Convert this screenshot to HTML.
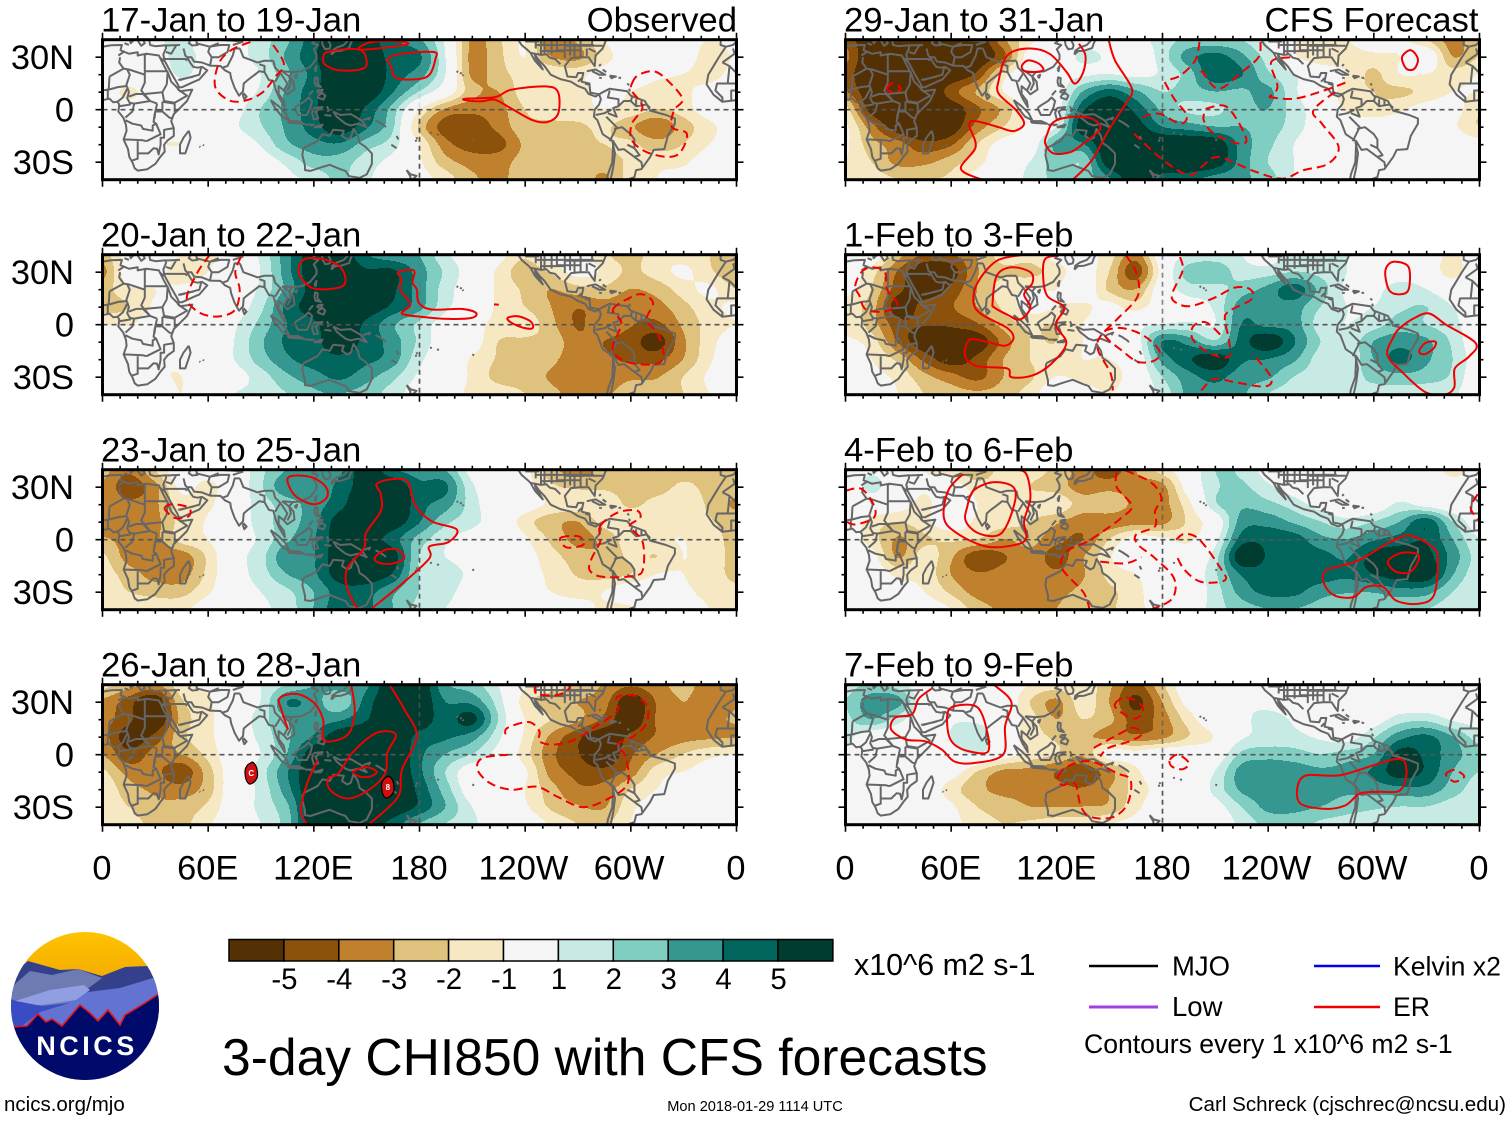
<!DOCTYPE html>
<html lang="en">
<head>
<meta charset="utf-8">
<title>3-day CHI850 with CFS forecasts</title>
<style>
html,body{margin:0;padding:0;background:#fff}
svg{display:block}
text{font-family:"Liberation Sans",Arial,sans-serif;fill:#000}
</style>
</head>
<body>
<svg id="chart" xmlns="http://www.w3.org/2000/svg" width="1510" height="1121" viewBox="0 0 1510 1121">
  <rect width="1510" height="1121" fill="#fff"/>
  <g id="panels"></g>

  <g id="colorbar"></g>
  <text x="854" y="975" font-size="30.4">x10^6 m2 s-1</text>

  <text x="222" y="1075" font-size="51.6">3-day CHI850 with CFS forecasts</text>

  <g>
    <line x1="1089" y1="966" x2="1158" y2="966" stroke="#000" stroke-width="2.5"/>
    <text x="1172" y="975.5" font-size="27.5">MJO</text>
    <line x1="1314" y1="966" x2="1380" y2="966" stroke="#0000ee" stroke-width="2.5"/>
    <text x="1393" y="975.5" font-size="26.6">Kelvin x2</text>
    <line x1="1089" y1="1007" x2="1158" y2="1007" stroke="#a040e0" stroke-width="3"/>
    <text x="1172" y="1016" font-size="27.5">Low</text>
    <line x1="1314" y1="1007" x2="1380" y2="1007" stroke="#f00000" stroke-width="2.5"/>
    <text x="1393" y="1016" font-size="26.6">ER</text>
    <text x="1084" y="1053" font-size="26.6">Contours every 1 x10^6 m2 s-1</text>
  </g>

  <g>
    <defs>
      <clipPath id="logoClip"><circle cx="85" cy="1006" r="74"/></clipPath>
      <linearGradient id="sunGrad" x1="0" y1="0" x2="0" y2="1"><stop offset="0" stop-color="#ffc400"/><stop offset="1" stop-color="#f2a600"/></linearGradient>
    </defs>
    <g clip-path="url(#logoClip)">
      <rect x="10" y="930" width="150" height="60" fill="url(#sunGrad)"/>
      <path fill="#34408c" d="M8 978L28 961L60 970L78 969L102 976L125 967L148 966L162 985V1082H8Z"/>
      <path fill="#6d7bb2" d="M8 990L30 971L52 975L78 969L102 978L86 990L90 1000L40 1012L8 1005Z"/>
      <path fill="#6373d2" d="M88 992L120 988L156 977L164 992V1020L100 1032L60 1032L8 1034V1018L60 1006Z"/>
      <path fill="#919ee2" d="M15 1001L50 990L84 985L90 990L76 1000L42 1005L22 1005Z"/>
      <path fill="#3a4cc4" d="M8 998L16 1001L42 1006L70 1003L40 1012L22 1026L8 1030Z"/>
      <path fill="#000a6b" stroke="#e8141c" stroke-width="1.6" d="M10 1027L27 1026L38 1014L46 1022L52 1019L62 1026L80 1005L90 1013L98 1021L108 1010L120 1025L125 1015L145 1003L160 993V1084H10Z"/>
    </g>
    <text x="87" y="1055" font-size="27" font-weight="700" text-anchor="middle" letter-spacing="3.5" style="fill:#fff">NCICS</text>
  </g>

  <text x="4" y="1111" font-size="20.5">ncics.org/mjo</text>
  <text x="755" y="1111" font-size="14.6" text-anchor="middle">Mon 2018-01-29 1114 UTC</text>
  <text x="1506" y="1111" font-size="20.6" text-anchor="end">Carl Schreck (cjschrec@ncsu.edu)</text>
</svg>

<script>
/* ---------- axes and categories ---------- */
const panelTitles = ["17-Jan to 19-Jan","20-Jan to 22-Jan","23-Jan to 25-Jan","26-Jan to 28-Jan","29-Jan to 31-Jan","1-Feb to 3-Feb","4-Feb to 6-Feb","7-Feb to 9-Feb"];
const xTickLons = [0,60,120,180,240,300,360];
const xTickLabels = ["0","60E","120E","180","120W","60W","0"];
const yTickLats = [30,0,-30];
const yTickLabels = ["30N","0","30S"];
const gridLons = [0,15,30,45,60,75,90,105,120,135,150,165,180,195,210,225,240,255,270,285,300,315,330,345,360];
const gridLats = [40,30,20,10,0,-10,-20,-30,-40];
const levels = [-5,-4,-3,-2,-1,1,2,3,4,5];
const colorbarLabels = ["-5","-4","-3","-2","-1","1","2","3","4","5"];
const binColors = ["#543005","#8c510a","#bf812d","#dfc27d","#f6e8c3","#f5f5f5","#c7eae5","#80cdc1","#35978f","#01665e","#003c30"];

/* ---------- velocity potential anomaly fields (rows: gridLats, columns: gridLons) ---------- */
const field1 = [
[.3,0,.8,1.2,.3,.5,1.5,2.8,4.6,5.8,5.6,4.2,3.2,.8,-3.2,-2.2,-1,-4,-2.8,-1,0,0,-.3,-1,-.5],
[0,0,.3,1.5,.5,.6,1.5,3.2,4.8,6.2,6,4.6,4.2,1,-3.3,-2.3,-1,-3,-3.3,-1.5,-.3,0,0,-1.7,-.8],
[0,0,0,1.2,.3,.3,1,2.8,4.4,6.3,6.3,4.6,3.5,1,-3.2,-2.4,-1.5,-1.2,-1.3,-.5,-.5,-.8,-1,-1.5,-.5],
[-.3,-1.2,-.3,.2,0,.2,1.2,3.2,4.6,6.3,6,4.1,2,0,-2.6,-3,-1.5,-1.5,-1.3,-.8,-1,-1.3,-1.2,-.5,0],
[0,-.5,0,0,0,.5,2,3.3,4.7,6.2,4.8,2.6,-.8,-3.1,-3.7,-3.4,-2,-1.6,-1.3,-1,-1.3,-2,-1.5,-.3,0],
[0,0,0,0,0,.8,1.9,3.2,4.5,5.8,4.2,2.2,-2.2,-4.5,-4.6,-3.7,-2.3,-2.2,-2.2,-1.8,-2.8,-3.8,-2.5,-1.3,-.3],
[0,0,-.8,-1,0,.2,1.1,2.8,3.6,3.9,2.5,1.5,-1,-3.6,-4.5,-4.4,-2.8,-2.2,-2.2,-2,-1.8,-2.6,-2,-1,-.3],
[0,0,0,0,0,0,.3,1.3,2.5,2.5,1.5,.6,-.8,-2.6,-3.4,-3.4,-2.6,-2.2,-2.2,-2.5,-1.8,-1.3,-1.2,-.3,0],
[0,0,0,0,0,0,0,.7,1.3,2.2,1.2,.3,-.5,-1.5,-2.8,-3.2,-2.5,-2.2,-2.2,-3.2,-1.5,-1,-.6,0,0]];
const field2 = [
[-2.5,-.5,0,-1,-1.2,-.5,1.2,3.6,5.8,5.8,4.1,3.3,3,1.2,.3,-.5,-1.8,-.3,-.3,-1.8,-2.4,-1.5,-1.5,-2,-3],
[-3.4,-.3,-.3,-1.8,-1,-.2,1,3.6,5.8,6.2,5.2,5.2,3.5,1.8,.3,-1.2,-2.6,-1.8,-.5,-1.2,-2.2,-1.5,-.8,-1.8,-3],
[-2.5,-1.2,-1,-.7,-.2,.2,1.2,3.3,5.6,6.3,6,5.2,3.5,1.5,.2,-1.2,-2.2,-3,-2.4,-2.2,-3,-2.6,-1.5,-.8,-2],
[-2.5,-2,-.8,-.2,0,.3,1.7,4.3,5.6,6.3,5.8,4.8,3.4,1.3,.1,-1.2,-2,-3,-3.9,-3.4,-3.8,-3.4,-2.3,-1.3,-.8],
[-1,-1.1,-.3,0,0,.8,2.3,4,4.8,5.7,4.8,3.2,1.8,.3,-.5,-1.3,-1.3,-2.7,-4.1,-3.3,-3.9,-4.2,-2.8,-1.6,-1],
[0,-.3,-.5,0,0,1,2.8,4.2,4.7,5.6,4.7,3.5,1.8,.2,-.3,-2,-2.2,-2.4,-3.7,-4,-4.5,-5.5,-3.2,-1.4,-.3],
[0,0,-.8,-.7,0,1,2.5,3.8,4.5,4.8,4.3,3.5,1.3,0,-1.1,-2.1,-2.3,-2.8,-3.5,-3.8,-4.2,-4.3,-3,-1.2,0],
[0,0,-.7,-1,0,.5,1.5,2.8,3.6,4.2,3.4,2.3,.8,0,-1.2,-2.3,-2.5,-3.1,-3.4,-3.6,-3.2,-3.1,-2,-.8,0],
[0,0,0,-1,.3,1,1.3,2,2.8,3,2.5,1.5,.3,-.5,-1.2,-1.5,-2,-2.8,-3.2,-3.2,-2.5,-2.5,-2,-1,-.8]];
const field3 = [
[-2.6,-3.8,-2,0,-.3,0,1.7,3,3.5,3.8,5.8,4.1,3.5,3,.5,0,-.7,-2.6,-3.6,-2.6,-2.5,-2.5,-2.5,-2.4,-2.2],
[-3.1,-4.6,-3.3,-.7,-1.3,0,1.8,3.8,3.3,4.3,5.7,6,4.3,4.2,1.2,0,-.5,-1.8,-2.2,-2.2,-2.4,-2.5,-1.8,-2.3,-2.4],
[-3.1,-3.8,-3.2,-1.4,-1.2,0,1.5,2.5,3.5,4.6,6.3,6.3,4.4,3.5,1.5,0,-.3,-1.2,-1.3,-1.2,-2.2,-1.6,-1.3,-2.2,-3.2],
[-3.3,-3.4,-3.3,-1.6,-.9,0,1.5,2.5,3.6,5.6,6.1,5.8,4.1,2.3,1.3,.3,-1.5,-2.6,-3,-1.6,-1.2,-1.3,-1.3,-1.9,-2.4],
[-2.9,-3.3,-3.3,-1.6,-1,.3,1.2,2.8,3.9,5.6,5.6,4.5,2.6,1.2,.5,.3,-.8,-2.2,-3.3,-2.7,-1.4,-1.2,-1,-1.6,-2.3],
[-1.8,-3.4,-3.6,-3.6,-1.8,.4,1.6,3.8,3.9,5.8,6.2,5.6,2,1,.3,0,-.5,-1.6,-2.5,-2.8,-1.8,-2,-1,-1.6,-2.2],
[-1.5,-2.5,-3.4,-3.5,-1.7,.3,1.5,3,3.8,5.6,5.9,4.9,2,1.8,.6,0,-.6,-1.2,-2.1,-2.4,-2,-1,-1,-1.6,-2.2],
[-1.2,-2,-2.4,-2.4,-1.2,.2,1,1.8,3,4.5,4.4,3.2,2,1.5,.2,0,-.6,-1,-1.4,-1,0,0,-.7,-1.4,-1.8],
[-1,-1,-1.3,-1.3,-.3,0,.7,1.5,3,4.7,4.3,3,1.7,1,0,0,0,-.3,-.5,-1.2,-1.2,0,-.2,-1,-1.5]];
const field4 = [
[-1.6,-2.5,-3.2,-1.3,-.7,.5,1,2,3,3.5,3.8,6,6,3.2,2.5,1,-.8,-1.5,-2.2,-3.1,-3.8,-3.3,-2.7,-3.4,-3.1],
[-3.2,-4.5,-6,-2.2,-1.3,.5,1,4,3.5,2.3,4.4,6.2,6,4,3.7,1.5,-1.5,-2.6,-3,-3.6,-5.8,-3.9,-3,-3.6,-3.1],
[-3.6,-4.7,-6.2,-2.7,-1.3,0,1.5,3,3.5,3.8,4.9,6.3,5.8,4.5,5.4,2,-1,-2,-2.8,-4.2,-5.8,-3.9,-3.2,-3.2,-2.9],
[-3.5,-5.6,-4.7,-2.3,-1.3,0,1.3,2.8,4.1,5.8,6,6.2,4.7,4.2,3.5,1.3,-1.2,-3.2,-4.7,-5.8,-4.8,-3.9,-3.4,-3.2,-3.1],
[-3,-4.7,-3.6,-3,-1.7,0,1,3,5.8,6.2,6.3,6.3,4.3,3,2,.5,-1.5,-3.7,-4.9,-6,-4.2,-3,-2,-1.3,-1],
[-1.8,-3.4,-3.7,-4.7,-2.5,0,1.5,3.9,6,6.3,6.4,6.3,4.3,2,.2,0,-.8,-3.4,-4.3,-4.7,-3.6,-1.5,-1,-.6,-.7],
[-1.2,-2.6,-3.2,-3.6,-2.5,0,1.3,3.6,6.1,6.4,6.4,6.3,4.7,2.5,.2,0,-1,-2.6,-3.8,-3.6,-2,-1,-.5,-.5,-.5],
[-1.2,-2,-2.7,-2.6,-1.8,0,1.3,2.8,6,6.4,6.4,6,4.8,3,1,0,-.8,-2.2,-2.9,-3.1,-1.3,-.5,-.3,-.2,-.2],
[-1,-1.5,-2.3,-2.3,-1.2,0,1,2.5,6,6.2,5.8,4.6,3,2,1.3,0,0,-1.2,-2,-2.2,-1,-.3,0,0,0]];
const field5 = [
[-4.2,-6.3,-6.5,-6.5,-6.3,-6,-3.2,-1.3,-.3,.5,.5,.5,1.5,2.2,2.2,2,.8,-1,-1,-1,0,-.6,-2,-3.4,-2.3],
[-3.7,-6.3,-6.5,-6.5,-6.5,-6,-4.2,-.3,.1,1.2,.8,0,1.5,3.5,4.4,3.3,1.5,-.8,-1.7,-1.5,-1.3,-1,.2,-3,-2],
[-4.4,-6.3,-6.5,-6.5,-6,-4.8,-1.5,0,.5,.8,1,.6,1.2,2.5,4.8,4.1,2.2,1,0,-1,-2.2,-1,-1,-1.5,-1],
[-3.9,-6,-6.5,-6.5,-4.5,-2.9,-1,0,.2,3,4.4,3.2,2,2.5,3,2.8,3.3,1.2,0,-1.5,-2,-2.2,-1.7,-1,-1],
[-1.6,-5.6,-6.2,-6.5,-5.8,-4.2,-2.7,-.3,.5,4.7,6,4.7,2.8,1.8,1.8,2.5,3,1.5,.3,-1.2,-1.7,-1.2,-.5,-.5,-1.8],
[-.8,-3.6,-5.8,-6.4,-5.8,-3.6,-2,-.5,1,5.8,6.4,5.6,4,3.5,3,3,2.6,1.5,.3,0,-.2,-.2,-.4,-.8,-2],
[-.8,-2.6,-3.6,-4.7,-4.2,-2,-.5,0,3.3,3.9,6.3,6.5,6.2,6.2,5.9,3.6,2.3,1,0,0,0,0,.8,0,-.5],
[-1,-2,-3.3,-3.3,-2.5,-1.4,0,1,2.5,2.2,5.8,6.5,6.2,6.4,5.8,3.6,2,1,0,0,0,0,0,0,0],
[-1,-1.5,-2,-2,-1.8,-.5,.2,1.3,2.3,2.5,3.9,5.8,4.6,4.3,3.6,3.2,2.5,1,0,0,0,0,0,0,0]];
const field6 = [
[.5,0,-2.5,-4.1,-4.1,-3,-1.5,-1.5,-.5,-.5,-1.5,-3.5,0,1,1.3,1,.3,1.8,1.7,1,.3,0,-.2,-1.2,0],
[0,-1.5,-4.1,-6,-5.6,-3.1,-2.2,-2.3,-1.5,-.4,-2,-4.6,-.5,2.5,2.8,1.5,1.5,2,1.7,1,0,.2,0,-1.5,.3],
[-.5,-2,-4.6,-5.8,-4.7,-3,-1.5,-1,-1,0,-2.2,-3,0,1.5,1.6,2.5,3.3,4.6,2.6,.8,.6,1.5,1,0,.3],
[-1.5,-2.5,-5.6,-4.6,-4.1,-3,-1.8,-.5,-1,-1.2,-.6,-1.5,0,.5,1.2,3.5,3.6,3.5,2,1,1,1.8,2,1,.3],
[-1.2,-2.5,-4.6,-4.9,-4.8,-4.1,-2.6,-1.8,-2,-1,-.4,.6,1,1.2,1,4,3.7,3.5,1.5,1,1.5,2.5,2,1.3,.2],
[-.8,-1.5,-4.1,-5.8,-6,-5.8,-3.6,-2,-2,-1,-.6,.3,4,3.6,2.2,4.4,5.8,4.1,2,1.2,3,3.6,3.2,1.8,0],
[0,-1,-2.3,-4.3,-5.6,-4.7,-3,-2,-1.5,-1,-1,0,3.3,4.8,5.8,4.2,4,3.2,1.5,1.2,3,4.3,3.2,2,.3],
[0,-.6,-1.3,-2.7,-3.6,-4.3,-3,-2.2,-1,-1.3,-1.5,-.2,2,3.6,4.3,3.5,3.2,2,1.5,1.5,2.3,2.7,2.5,1.8,0],
[0,0,-1,-2,-2.5,-2.8,-2.5,-1.5,0,-.3,-1,0,1.3,3.3,3.7,3.2,2,1.5,1.3,2,1.6,1.5,1.3,1.2,0]];
const field7 = [
[0,.8,.2,-1,-1.5,-3,-1.5,-1.5,-2.3,-3.4,-4.6,-3,-1.5,0,2,1.8,.5,0,0,.5,.8,.5,0,-1.5,-.5],
[0,1.3,0,-.8,-.4,-1.5,-1.4,-2,-2.5,-3.5,-3.4,-3.4,-3.3,-.3,1.8,2.2,1.2,.4,0,0,.2,0,0,-.3,0],
[0,.2,-.3,-1.3,0,-1,-1.3,-1.5,-1.2,-2.5,-2.2,-3.3,-3.4,-1.3,1.8,2.8,2.3,1.5,.5,0,0,1.2,.5,0,0],
[-.2,-1.3,-2,-1.3,-.2,-1.2,-1.5,-2,-2.8,-3.6,-3.6,-3.4,-3.3,-1.8,0,3.4,3.6,2.8,2,1.3,2,3,4.6,2,.3],
[-.3,-1.5,-3.1,-2.2,-1.8,-2,-3,-2.6,-3.7,-4,-2,-.5,-.8,-1.2,.5,4.4,4.7,4.5,3.3,3,3.8,4.4,4.9,3,1],
[0,-.5,-3.1,-1.5,-2.8,-4.7,-4.1,-3.3,-4.4,-3.1,-1.2,.3,0,-.3,1.5,5.8,4.9,4.7,4.4,3.9,5.4,5.8,5.4,3.6,1.5],
[0,0,-1.3,-1.3,-3,-3.9,-3.6,-3.3,-3.8,-3.1,-1.7,-1,0,0,1.8,4.1,4.6,4.8,4.6,4.2,5,5.6,5.8,3.1,1.3],
[.5,0,-.5,-1,-2.2,-3.4,-3.4,-3.3,-3.2,-2.8,-2.2,-1.4,0,0,1.5,3.4,4.3,4.3,3.4,3.1,3.1,3.6,3.4,2,1],
[1,0,0,-.3,-1,-2.5,-3.2,-3.2,-3,-2.7,-2.2,-1.3,-.5,0,1.5,2.5,3,3,2.6,2.2,2,2,2,1.5,1.3]];
const field8 = [
[1.5,2.2,1.5,0,0,-.2,-.3,-1,-1.5,-1.3,-2.8,-4.3,-2.2,0,0,0,0,0,0,0,0,.3,0,-1,0],
[2,3.6,3.4,.2,0,0,0,-2,-3.2,-1.5,-3,-5.3,-3,-.5,0,.8,.4,0,0,0,0,0,0,0,0],
[1.7,3,1.5,0,.8,.7,0,-1.5,-3,-2,-2.7,-4.5,-3.5,-1.5,0,.6,1.5,.8,0,0,.3,1.5,1.7,.8,.5],
[1.4,.1,0,0,1,1.8,-.2,-1.5,-2.2,-2.8,-3.3,-3.8,-3.3,-2,-.9,.8,1.3,1.3,.8,.5,1.8,3.6,4.2,3,1.5],
[.6,0,-.2,0,.5,1,-.3,-1.4,-2,-2.8,-.5,-.6,0,0,0,2.2,2.6,2.4,2,2.4,3,5.4,4.7,3.4,2.5],
[.3,0,-1,-.5,-.3,-2,-3.2,-3.3,-4,-4.8,-3.3,-1.3,0,0,1,3.4,3.7,3.6,3.2,3.4,4.2,5.6,4.8,3,2],
[0,0,0,0,-1.5,-2.7,-3.3,-3.2,-3.6,-3.9,-3,-1.6,-.5,0,1.3,3.2,3.6,3.8,3.4,3.2,3.4,3.7,3.7,2.5,1.5],
[.3,0,0,0,-.8,-2,-2.5,-3,-3,-3,-2.8,-1.3,-.2,0,.5,2,3.3,3.3,3,2.5,2.2,2,2,1.5,1.2],
[.8,0,0,0,-.6,-1.5,-2,-1.8,-1.5,-1.5,-1,-.6,0,0,0,1.3,2.3,2.5,1.8,1.5,1.3,1.2,1.2,1.2,1.1]];
const panelFields = [field1,field2,field3,field4,field5,field6,field7,field8];

/* ---------- ER contours: flat lon,lat lists; c:1 = closed, d:1 = dashed (negative) ---------- */
const er1 = [
{c:1,p:[125.3,28.2,128,33,146,34.3,150,26.3,146,22.9,134,22.5,127,25.3]},
{c:1,p:[146,34.3,171,36.8,171,38.7,153,38.7]},
{c:1,p:[162,29.1,170,32,188,33,189,29,185.3,19.6,177,17.3,166.5,18.3,164,24.4]},
{c:1,p:[206,6.3,223,7.2,232,11.4,251.5,13.3,258.7,10,258.7,-2.3,252.6,-7,244.3,-6,232.3,.6,222.7,5.7,215.6,4.8,207,5.3]},
{d:1,p:[84,38.7,73,34,66,26.3,64,13,72,5.3,81.5,5.3,91,10,98,18.7,103,26.3,95.7,38.7]},
{d:1,c:1,p:[300.6,14.9,304,19.6,312.6,22,319.8,17.7,329.3,6.3,324.5,-.4,323.3,-10,331.8,-13.7,328.2,-24.2,321,-27,309,-24.2,300.6,-17.5,300.6,-8,306.6,1.5,300.6,10.7]}];
const er2 = [
{c:1,p:[111.4,32.8,115,37.6,124.6,37.6,134,33.8,137.7,28,136.6,22.2,127,20.3,118.6,21.2,112.6,27]},
{c:1,p:[167.7,29.9,175,31.5,177.2,29.9,176,24,178.4,20.3,179.6,12.5,186.8,8.7,203.6,9,212,6.8,209.6,3.9,196.4,3.3,182,4.4,170,6.4,174.8,11.6,168.9,20.3,170,26]},
{c:1,p:[230,3.9,236,4.8,243,1.9,244.3,-1.9,239.5,-1.9,232.3,1]},
{p:[222.3,11.6,225,11.4]},
{d:1,p:[61,40,54,30,48,16.4,50.3,10.6,57.5,5.8,67,4.8,75.4,8.7,77.9,20,75.4,30,79,39.6]},
{d:1,c:1,p:[289.8,8.7,299.4,15.4,306.6,17.4,312.6,12.5,309,2.9,315,-4.8,318.6,-16.4,315,-22.2,301.8,-22.2,292.2,-18.3,289.8,-12.5,294.6,1]}];
const er3 = [
{c:1,p:[105,34.7,110,36.7,119.8,35.3,127,29.9,127.3,24,121,20.3,113.8,22.2,107.8,27]},
{p:[145,-40,139,-28,139,-16.4,148.5,-4.8,149.7,3.9,158,16.4,158,26,155.7,31.9,165.3,34.7,173.6,32.8,177.2,20.3,186.8,10.6,201.2,5.8,196.4,-1.4,185.6,-3.9,185.6,-10.6,171.3,-24.2,152,-40]},
{c:1,p:[154.5,-10.6,160.5,-5.8,167.7,-5.8,171.3,-10.6,165.3,-13.5,158,-13.5]},
{d:1,c:1,p:[35.4,18.3,39.5,20.3,49,18.3,49,13.5,41.9,12.2,37,15.4]},
{d:1,c:1,p:[260,1,270.5,1.9,273,-2.9,263.5,-4.4]},
{d:1,c:1,p:[282.6,7.7,292.2,15.4,303,16.8,305.4,12.5,299.4,7.7,306.6,-1,307,-16.4,301.8,-20.7,283.8,-21.2,276.6,-17.4,277.8,-10.6,282.6,-1]}];
const er4 = [
{p:[141.3,39.6,143.2,24,139,11.2,125.8,8,125.3,20,119.8,29.9,110.2,34.7,100.6,32.4,101.8,25,105.4,14.4]},
{p:[116.2,-40,112.6,-32,116.2,-16.4,122.2,-3]},
{p:[163,40,171.3,26,178.4,10.6,170,-8.7,167.7,-24.2,151,-40]},
{c:1,p:[142.5,1.9,155.7,12.5,166.5,11.6,161.7,1,160.5,-10.6,151,-20.3,139,-25,129.4,-20.3,128.1,-13.5,134,-10.6]},
{c:1,p:[142.5,-9.7,149.7,-7.1,155.7,-9.7,152,-12.5,146,-12.5]},
{d:1,p:[228.7,11.6,230,15.4,242,18.7,248,13.5,248,7.7,256.3,5.8,268.3,8.7,280.3,16.4,292.2,25,292.2,32.8,301.8,33.8,309,28,309,18.3,301.8,10.6,292.2,5.8,297,-1,298.2,-16.4,287.4,-25,273,-30,258.7,-24.2,246.7,-18.3,232.3,-20,220.3,-16.4,213,-8.7,215.6,-2,230,0]},
{d:1,p:[245.5,40,246.7,34.7,258.7,34.2,264.8,37.6,264.8,40]}];
const er5 = [
{p:[77.5,-40,65.5,-33.7,73.9,-21.3,70.3,-9,73.9,-6.5,87,-10,95.4,-12.2,101.4,-8,96.6,0,87,9.1,87,16.8,91.8,31,103.8,35,115.8,32,125.4,21.7,130.2,14.9,135,21.5,136.2,31,132.6,37.7]},
{c:1,p:[100.2,25.3,103.8,28.2,109.8,26.3,112.2,22.5,105,21.5,101,22.5]},
{p:[149.4,40,153,28.2,162.6,12,159,3.4,149.4,-11.8,139.8,-29,129,-40]},
{c:1,p:[114.6,-13.7,118.2,-7,127.8,-4.2,139.8,-5.1,144.6,-10.9,135,-19.4,127.8,-24.2,118.2,-25,113.4,-19.4]},
{c:1,p:[316,30,321,34,325,29,323,23.4,318.5,23.4]},
{d:1,c:1,p:[23.5,12,27,15.2,31.4,12,27,10]},
{d:1,p:[201,38.7,198.6,28.2,190.2,19.6,183,17]},
{d:1,p:[235.7,38.7,234.5,30,225,21.5,211.7,12,202,22.5]},
{d:1,p:[240.5,7.2,255,6.3,271.7,11,285,15.9]},
{d:1,p:[252.5,30,241.7,27.2,245.3,13,240.5,7.2]},
{d:1,p:[168.6,-4.2,178,-2.3,190,-8,193.8,-3.2,186.6,6.3,180.6,17]},
{d:1,p:[204.6,.6,216.6,1.5,227.3,-15.6,223.7,-19.4,209.3,-13.7,203.4,-6,204.6,.6]},
{d:1,p:[163.8,-13.7,180.6,-29,195,-37.5,202,-32.8,211.7,-27,230.8,-34.7,247.7,-39.4,259.7,-34.7,274,-30.9,280,-21.3,270.5,-8,265.7,-.4,279,11]}];
const er6 = [
{p:[101.4,40,85.9,36.5,75,24,72.7,12.5,77.5,5.8,91.8,-1.9,95.4,-7.7,90.6,-12,79.9,-9.7,70.3,-8.7,68,-18.3,75,-23.7,91.8,-25,94.2,-30,106.2,-29,117,-22.2,125.4,-10.6,119.4,0,124.2,9.7,114.6,16.4,112.2,28,113.4,37.6,120.6,39.5]},
{c:1,p:[83.5,12.5,85.9,28,94.2,32.8,105,30,106.2,24,101.4,17.4,105,9.7,99,2.9,91.8,5.8,84.7,9.7]},
{c:1,p:[306.5,28,307.7,33.8,312.5,36,319.8,32.8,319.8,20.3,315,17.4,309,19.3]},
{c:1,p:[314.8,-1.9,323.2,3.9,331.5,6.4,341,0,357.9,-10.6,354,-18.3,346,-25,345.7,-35.7,340,-40,329.4,-38.6,317,-28,307.7,-17.4,311.3,-6.8]},
{c:1,p:[325.7,-15.4,329,-10.6,335,-9.7,334,-13.5,329,-16.8]},
{d:1,c:1,p:[5.5,22,9,30,15,32.8,22.3,30,23.5,20.3,29.5,11.6,22.3,7.7,11.5,8.7,8,16.4]},
{d:1,p:[159,40,165,30,166,16.4,154,2.9,144.6,-6.8,143.4,-14.5,150.6,-28,151.8,-37.6]},
{d:1,c:1,p:[147,-3.9,156.6,-1.9,168.6,-5.8,178,-14.5,175.8,-20.3,166,-21.2,156.6,-14.5,149.4,-8.7]},
{d:1,p:[190,38.6,191.4,30.9,185.4,17.4,187.8,12.5,196,10.6,209.4,15.4,221,21.2,229.7,20.3,230.5,14.5,217.7,7.7,215.4,2.9,217.7,-8.7,217.7,-18.3,207,-16.4,197.4,-8.7,197.4,-1,204.6,1.4,213,-5.8]},
{d:1,p:[202,-37.6,209.4,-30.9,221,-32.8,238,-35.3,241.6,-30,231,-16.4]}];
const er7 = [
{p:[66.7,37.6,58.3,28,55.9,12.5,63,3.9,79.9,-3.9,96.6,-2.9,102.6,1,101.4,10.6,105,24,102.6,37.6,96.6,40]},
{c:1,p:[69,18.3,72.7,28,83.5,32.8,94.2,30.9,96.6,24,91.8,8.7,85.9,2.3,75,3.9,68.3,10.6]},
{c:1,p:[289.7,-12.5,310,-1,321,2.3,334,-4.8,336.4,-12.5,334,-32,324.5,-36.7,312.5,-34.7,305.3,-27,295.7,-27,288.5,-32.8,277.7,-31.9,271.7,-25,273,-17.4]},
{c:1,p:[308,-12.5,315,-7.7,323.2,-7.7,325.7,-10.6,321,-18.3,312.6,-18.3]},
{d:1,p:[0,28,9,29,16,20,16,12.5,5.5,8.7,0,10.6]},
{d:1,p:[359,26,355,18.3,359,11.6]},
{d:1,p:[154,38.6,154,30,162.6,19.3,156.6,12.5,151.8,8.7,137.4,-1,125.4,-6.8,123,-16.4,135,-30,138.6,-39.6]},
{d:1,p:[159,39.6,173.4,32.8,179.4,24,175.8,16.4,175.8,7.7,165,2.9,166.2,-2.9,175.8,-10.6,186.6,-22.2,185.4,-33.8,173.4,-40]},
{d:1,p:[187.8,0,192.6,3.3,201,0,213,-16.4,215.4,-23.2,202,-24.1,192.6,-17.4,187.8,-8.7]},
{d:1,p:[144.6,-12.5,159,-13.5,168,-10]}];
const er8 = [
{p:[48.7,37.6,41.5,31.9,37.9,23.2,28.3,21.2,25.9,14.5,34.3,8.7,45,7.7,54.7,2.9,61.9,-3.9,72.7,-4.8,89.5,0,90.6,16.4,94.2,30,84.7,39.6]},
{c:1,p:[58.3,25,65.4,28.4,75,27,79.9,15.4,81,1.9,70.3,1.9,61.9,5.8,58.3,12.5]},
{c:1,p:[257.5,-27,259.9,-12.5,281.5,-11.6,312.5,-2.5,318.5,-8.7,315,-20.3,303,-21.2,292.1,-22.2,283.7,-29,271.7,-30.9]},
{d:1,c:1,p:[184.2,-2.9,189,0,195,-4.8,191.4,-8.3,185.4,-6.8]},
{d:1,c:1,p:[341.2,-10.6,346,-8.7,351.3,-12.5,346,-15.4,341.7,-12.5]},
{d:1,c:1,p:[153,29,159,32.8,167.4,29,168.6,24,163.8,20.7,155.4,25]},
{d:1,p:[141,3.9,156.6,12.5,163.8,15.4,168.1,11.6,161.4,7.7,149.4,3.9,144.6,-1]},
{d:1,c:1,p:[120.6,-12.5,127.8,-5.8,139.8,-3.9,154.2,-10.6,161.9,-14.5,160.2,-28,151.8,-35.7,139.8,-35.7,133.8,-30,130.2,-16.4,123,-17.4]}];
const panelContours = [er1,er2,er3,er4,er5,er6,er7,er8];

/* ---------- base map, lon/lat polylines ---------- */
const coastlines = [
[0,5.5,4,6.3,6,4.3,8.5,4.5,9.5,3,9.3,1,9,-1,11.8,-4.5,13.3,-8.5,13.7,-12,12,-17,14.5,-22.5,15.2,-27,17,-30,18.3,-33.5,20,-34.8,25.5,-34,30,-31,32.8,-27,35.3,-24,35,-20,37,-17.5,40.5,-15,40.5,-10.5,39,-6.5,40.5,-2.5,44,1,48,5,51,11.5,44,10.5,43,12,39,16,37.2,21,35,25,33.5,28,32.5,30,32,31,25,32,20,31,20,32.8,15,32,10.2,34,11,37,5,36.8,0,36],
[32.5,30,34.5,28,35,29.5,34.5,31.5,36,35,36,36.8,30,36.3,27,37,26.5,40],
[35,28.5,39,21,42.5,15,43.5,12.8,45,12.8,52,16,55,17.3,59.5,22.5,56.5,24.5,54,24,51.5,24.5,50,26.5,48,30,50.5,30,52,27.5,56.5,27,61,25.2,67,25,69.5,22.5,72.5,21,73,18,75,12.5,77.5,8,79.8,10.5,80.2,15,82.5,17,86.5,20,89,22,92,21.5,94.5,17,97,16.5,98.5,11,100.5,6.5,103.5,1.5,103,5,100,9,100,13.5,103,11,105,8.8,109,11.5,108.5,16,106,19,108,21.5,113,22,118,24.5,121.5,29,121.5,31.5,120,34.5,122.5,37,119,38,121.5,40],
[124.5,40,125,37,126.5,34.5,129,35,129.5,37,128,40],
[130,31.5,132,33.5,135.5,33.7,140,35.2,141,38,142,40,139.8,40,137,37,133,35.5,130.5,33.7,130,31.5],
[120.3,23,121.5,25,121,22,120.3,23],[109,19,110.5,20,110,18.3,109,19],
[120.3,16,120.8,18.5,122.2,18,122,15,124,13,121,13.8,120.3,16],[122,7,125.5,5.8,126.5,8,125,9.5,123,8.5,122,7],[122,11,125,11.5,124,9.8,122,10,122,11],[117.2,8.3,119.5,11],
[109,1,111,2.5,115,5,117,7,119,5,118,1,116,-3,111,-3,109,1],
[95.5,5.5,100,2,104,-2,106,-6,102,-4,98,1,95.5,5.5],
[105,-6.5,111,-6.5,114.5,-8,106,-7.5,105,-6.5],[115,-8.5,120,-8.5,118,-9],[120,-10,125,-8.5,124,-10,120,-10],
[120,1,125,1.5,121,-1,122.5,-5,120,-5.5,119,-2,120,1],[127.5,2,128.5,-.5,127.5,-1],[126,-3,130,-3.5],
[131,-1,135,-3,141,-2.5,147,-6,150,-10,145,-8,141,-9,138,-8,133,-4,131,-1],
[148,-6,152,-4.5,151,-6],[155,-6,157,-7,160,-9,161,-10],[167,-15,168,-17],[164,-20,167,-22],[177.5,-18,178.5,-17.5],[178,-16.5,179,-16],
[114,-22,113.5,-26,115,-32,115,-34.5,118,-35,124,-33,129,-31.5,135,-34,138,-35,140,-38,146,-39,150,-37,153,-31,153,-25,149,-21,146,-19,145,-15,142.5,-11,141,-16,139,-17,136,-15,137,-12,131,-11.5,129,-15,125,-14,122,-18,114,-22],
[172.7,-34.5,175,-37,178.3,-37.8,176,-40,175,-40,174.8,-38,172.7,-34.5],
[49,-12,50,-16,47,-25,44,-25,44,-20,46,-16,49,-12],[80,9.5,81.8,7.5,80.5,6,79.8,8,80,9.5],[57,-20,57.6,-20.5],[55,-21,55.6,-21.3],
[201,22,202,21.5],[203,21,204,20.7],[204.5,20,205,19.3],[210,-17,211,-17.5],[190,-14,191,-14.5],[186,-13,187,-13.5],
[243,32.5,245.5,28,250,23,248,26.5,246,29.5,245.5,31.5,248,28,251,25,254.5,20,260,17.5,266,16,270,13.5,274,12,276,9,280,7.5,282,8.8,283,6,282,3,279.5,0,279,-4,281,-6,284,-14,290,-18,289.5,-30,287,-37,286.5,-40],
[243,32.5,241.5,34,238,37,236,40],
[298,-40,302,-38.5,303,-34.5,306,-34,311,-27,313,-23,319,-22.5,321,-15,325,-8,325,-5,320,-3,311,-.5,308,5,300,8,298,10.5,288,12,284,10,282,8.8,277,9.8,276.5,15,272,16,273,21,270,21,269,18.5,264,19,262.5,25,266,29.5,271,30,276,30,278,27,279.5,25,280,31,284,35,286,40],
[275,22,280,23,285.5,20,282,20,278,22],[288,19.5,291.5,19,289,18,288,19.5],[282,18.3,283.5,18],[293,18.3,294.5,18.2],[282,25,283,26],[284,23,286,21.5],[298,15,299,14],[299,12,299.5,10.5],
[360,5.5,352,4.5,347,8.5,343,14.5,344,20,350,30,354,36,351,37,351,40],[354,36,358,37,360,39],[0,39,3,41],
[15.5,40,16,38,18,40],[20,39.5,22,36.5,24,38,23,40],[50,40,49,38,51,36.7,54,37,53,40],[12.5,38,15,37]];
const borders = [
[10,30,9.5,27,12,23.5,15,23,24,20,24,31.5],[24,22,37,22],[24,20,24,15.5,22,11,27,5,31,3.5],[14,23,15.5,20,13.5,14,14,13],[4,19,12,23.5],[3.5,11.5,9,13,13.5,13.5],[14,13,15,10,14,6.5,16,3],[16,3,9.5,2],[8.5,4.5,11.5,7,14,12],[15,7.5,19,9,23,9,27,5,18,3.5,15,4],[18,3.5,17,-1,13,-4.5],[31,3.5,29.5,-3,29,-7,30.5,-8,28.5,-9,28.5,-12,23,-11,22,-9,17,-8,13,-6],[12,-17,23,-17.5,25,-18],[20,-18,20,-28,17,-29],[20,-25,26,-25,29,-22,31,-22.3,32,-26],[25,-18,30,-15.5,33,-14,30.5,-8],[30.5,-1,34,-1,38,-4.5,39.5,-5],[30,-1,29.5,-5],[40.5,-10.5,35,-11.5,35,-16,33,-16,33,-20,32,-25],[34,4.5,41,3.5,41,-1.5],[34,4.5,34,-1],[36.5,14.5,34,10,35,5,41,4,48,8,43,11.5,42.5,12.5],[24,9,34,10],[0,11,3,11.5,3,6.5],[4,19,3.5,11.5],[9,31,12,33],[25,32,24,31],[37,22,36.5,14.5],
[355,15,349,15,348,11,352,7,352,4.5],[355,15,356,25,352,27],[356,25,360,21],[352,27,359,32,358,35],[357,5,357,11,360,11],[360,21,360,15,355,15],
[35,29,47,29,48,28],[44,17,55,20,56,24],[43,17,52,19],[46,35,47,31,48,30],[36,33,39,32,42,37],[61,25,62,30,60,33,61,36],[68,24,71,25,74,31,75,35,78,35],[61,36,67,37,72,37,71,33,66,30,62,30],[44,37,36,36.7],[53,38,61,36,66,38],[78,35,80,30,88,27,92,28,97,28],[89,26,92,25,92,21],[97,28,98,24,101,21,98,16],[101,21,105,15,103,11],[102,22,106,19,107,15,105,11],[102,22,108,21.5],[66,40,80,39],[80,39,74,37],
[246,40,246,35],[249,40,249,31.3],[251,40,251,32],[255,40,255,32],[258,40,258,34],[262.5,40,262.5,29.5],[265.5,40,265.5,31],[271.5,40,271.5,30],[275,35,275,30.7],[246,37,279,37],[258,34,271,34],[249,33.5,262,33.5],[240,39,248,39],[262,36.5,284,36.5],[243,32.5,249,31.3,252,31.7,254,29.7,257,29,260,26],[280,33,276,35],[268,30,268,36],[278,37,278,40],[270,16,272,18],[274,15,277,14],
[287,-2,292,-4,290,1,293,2,296,5,300,5,303,2,309,3,311,1],[290.5,-11,295,-10,300,-14,302,-17,302,-22,305,-26,302,-27,306,-30,306.5,-33],[289.5,-18,291,-25,290,-33,288.5,-40],[290,-18,293,-23,296,-22.5,302,-27],[288,11,287,7,293,6,293,2],[280,-3,285,-2,289,0],[288,-18,292,-10,286,-4],[300,5,301,8],[303,2,303,6],[306,2,306,6],[302,-22,298,-20]];

/* ---------- cyclone markers ---------- */
const cycloneLabels = ["C","8"];
const cyclonePanels = [3,3];
const cycloneLons = [84.5,162];
const cycloneLats = [-10.5,-18.5];

/* ---------- layout ---------- */
const NS = "http://www.w3.org/2000/svg";
const colX = [102.5,845.5];
const rowY = [39.7,254.7,469.7,684.7];
const panelW = 634, panelH = 140;

function mk(tag, attrs, parent){
  const e = document.createElementNS(NS, tag);
  for (const k in attrs) e.setAttribute(k, attrs[k]);
  if (parent) parent.appendChild(e);
  return e;
}
function pairs(flat){ const o=[]; for(let i=0;i+1<flat.length;i+=2) o.push([flat[i],flat[i+1]]); return o; }
function cr(a,b,c,d,t){ return b + .5*t*(c-a + t*(2*a-5*b+4*c-d + t*(3*(b-c)+d-a))); }
function binOf(v){ let i=0; while(i<levels.length && v>=levels[i]) i++; return i; }

function buildFill(parent, field, xScale, yScale, x0, y0){
  const nx = panelW, ny = Math.ceil(panelH);
  const lonStep = gridLons[1]-gridLons[0], latStep = gridLats[0]-gridLats[1];
  const rows = field.map(r=>{
    const out = new Float32Array(nx);
    for(let px=0;px<nx;px++){
      const u = (px+.5)/nx*360/lonStep;
      const i = Math.min(Math.floor(u), r.length-2), t=u-i;
      out[px] = cr(r[Math.max(i-1,0)],r[i],r[i+1],r[Math.min(i+2,r.length-1)],t);
    }
    return out;
  });
  const segs = binColors.map(()=>[]);
  for(let py=0;py<ny;py++){
    const v = (py+.5)/ny*80/latStep;
    const j = Math.min(Math.floor(v), rows.length-2), t=v-j;
    const a=rows[Math.max(j-1,0)],b=rows[j],c=rows[j+1],d=rows[Math.min(j+2,rows.length-1)];
    let start=0, cur=binOf(cr(a[0],b[0],c[0],d[0],t));
    for(let px=1;px<=nx;px++){
      const n = px<nx ? binOf(cr(a[px],b[px],c[px],d[px],t)) : -1;
      if(n!==cur){
        segs[cur].push("M"+(x0+start)+" "+(y0+py)+"h"+(px-start)+"v1h-"+(px-start)+"z");
        start=px; cur=n;
      }
    }
  }
  segs.forEach((s,i)=>{
    if(!s.length) return;
    const el = mk("path",{d:s.join(""),fill:binColors[i],"shape-rendering":"crispEdges"},parent);
    
    
  });
}

function polyPath(flat, xScale, yScale){
  const p = pairs(flat);
  return "M"+p.map(q=>xScale(q[0]).toFixed(1)+" "+yScale(q[1]).toFixed(1)).join("L");
}
function smoothPath(flat, closed, xScale, yScale){
  const p = pairs(flat).map(q=>[xScale(q[0]),yScale(q[1])]);
  const n = p.length;
  if(n<3) return "M"+p.map(q=>q[0].toFixed(1)+" "+q[1].toFixed(1)).join("L");
  let s = "M"+p[0][0].toFixed(1)+" "+p[0][1].toFixed(1);
  const last = closed ? n : n-1;
  for(let i=0;i<last;i++){
    const g = k => closed ? p[(k+n)%n] : p[Math.max(0,Math.min(n-1,k))];
    const a=g(i-1),b=g(i),c=g(i+1),d=g(i+2);
    s += "C"+(b[0]+(c[0]-a[0])/6).toFixed(1)+" "+(b[1]+(c[1]-a[1])/6).toFixed(1)+" "+(c[0]-(d[0]-b[0])/6).toFixed(1)+" "+(c[1]-(d[1]-b[1])/6).toFixed(1)+" "+c[0].toFixed(1)+" "+c[1].toFixed(1);
  }
  return s+(closed?"Z":"");
}

const panelsRoot = document.getElementById("panels");
const defsEl = mk("defs",{},panelsRoot);

panelTitles.forEach((title,idx)=>{
  const col = idx<4?0:1, row = idx%4;
  const x0 = colX[col], y0 = rowY[row];
  const xScale = lon => x0 + lon/360*panelW;
  const yScale = lat => y0 + (40-lat)/80*panelH;

  const g = mk("g",{},panelsRoot);
  
  

  const cp = mk("clipPath",{id:"clip"+idx},defsEl);
  mk("rect",{x:x0,y:y0,width:panelW,height:panelH},cp);
  const inner = mk("g",{"clip-path":"url(#clip"+idx+")"},g);

  buildFill(inner, panelFields[idx], xScale, yScale, Math.floor(x0), Math.floor(y0));

  const coast = mk("path",{d:coastlines.concat(borders).map(c=>polyPath(c,xScale,yScale)).join(""),fill:"none",stroke:"#666","stroke-width":2,"stroke-linejoin":"round"},inner);
  
  

  const eq = mk("line",{x1:xScale(0),x2:xScale(360),y1:yScale(0),y2:yScale(0),stroke:"#555","stroke-width":1.7,"stroke-dasharray":"5 4"},inner);
  
  
  const dl = mk("line",{x1:xScale(180),x2:xScale(180),y1:yScale(0),y2:yScale(-40),stroke:"#555","stroke-width":1.7,"stroke-dasharray":"5 4"},inner);
  
  
  const dl2 = mk("line",{x1:xScale(180),x2:xScale(180),y1:yScale(40),y2:yScale(0),stroke:"#555","stroke-width":1.7,"stroke-dasharray":"5 4","stroke-opacity":idx<3?0.15:0.7},inner);
  
  

  panelContours[idx].forEach(ct=>{
    const a = {d:smoothPath(ct.p,!!ct.c,xScale,yScale),fill:"none",stroke:"#f00000","stroke-width":2};
    if(ct.d) a["stroke-dasharray"]="9 5";
    const el = mk("path",a,inner);
    
    
  });

  cycloneLabels.forEach((lab,ci)=>{
    if(cyclonePanels[ci]!==idx) return;
    const cx=xScale(cycloneLons[ci]), cy=yScale(cycloneLats[ci]);
    const cg = mk("g",{},inner);
    
    
    mk("path",{d:`M${cx+1} ${cy-11}C${cx+7} ${cy-8} ${cx+7} ${cy+4} ${cx+5} ${cy+6}C${cx+4} ${cy+9} ${cx} ${cy+11} ${cx-2} ${cy+11}C${cx-7} ${cy+8} ${cx-7} ${cy-4} ${cx-5} ${cy-6}C${cx-4} ${cy-9} ${cx-1} ${cy-10} ${cx+1} ${cy-11}Z`,fill:"#d01010",stroke:"#000","stroke-width":1.2},cg);
    const tx = mk("text",{x:cx,y:cy+3,"font-size":8,"text-anchor":"middle","font-weight":700,style:"fill:#fff"},cg);
    tx.textContent = lab;
  });

  const frame = mk("rect",{x:x0,y:y0,width:panelW,height:panelH,fill:"none",stroke:"#000","stroke-width":3},g);
  
  

  let t = "";
  for(let lon=0;lon<=360;lon+=10){
    const len = lon%60===0?6:3, xp=xScale(lon);
    t += `M${xp} ${y0}v${-len-1}M${xp} ${y0+panelH}v${len+1}`;
  }
  for(let lat=-30;lat<=30;lat+=10){
    const len = lat%30===0?6:3, yp=yScale(lat);
    t += `M${x0} ${yp}h${-len-1}M${x0+panelW} ${yp}h${len+1}`;
  }
  const ticks = mk("path",{d:t,stroke:"#000","stroke-width":1.6,fill:"none"},g);
  
  

  const tt = mk("text",{x:x0-1.5,y:y0-8,"font-size":34.7},g);
  tt.textContent = title;
  
  

  if(idx===0||idx===4){
    const tr = mk("text",{x:x0+panelW+(idx===0?0.5:-1),y:y0-8,"font-size":34.7,"text-anchor":"end"},g);
    tr.textContent = idx===0 ? "Observed" : "CFS Forecast";
    
    
  }
  if(col===0){
    yTickLats.forEach((lat,i)=>{
      const yl = mk("text",{x:74,y:yScale(lat)+12,"font-size":34.4,"text-anchor":"end"},g);
      yl.textContent = yTickLabels[i];
      
      
    });
  }
  if(row===3){
    xTickLons.forEach((lon,i)=>{
      const lab = xTickLabels[i];
      const xl = mk("text",{x:xScale(lon)-(lab.endsWith("W")?1.7:0.5),y:879.5,"font-size":34.4,"text-anchor":"middle"},g);
      xl.textContent = lab;
      
      
    });
  }
});

/* ---------- colorbar ---------- */
const cbRoot = document.getElementById("colorbar");
const cbX = 229, cbY = 939.5, cbBox = 54.9, cbH = 21.5;
binColors.forEach((c,i)=>{
  const r = mk("rect",{x:cbX+i*cbBox,y:cbY,width:cbBox,height:cbH,fill:c,stroke:"#000","stroke-width":1.5},cbRoot);
  
  
});
colorbarLabels.forEach((lab,i)=>{
  const tx = mk("text",{x:cbX+(i+1)*cbBox+0.5,y:989,"font-size":29.4,"text-anchor":"middle"},cbRoot);
  tx.textContent = lab;
  
  
});
</script>
</body>
</html>
